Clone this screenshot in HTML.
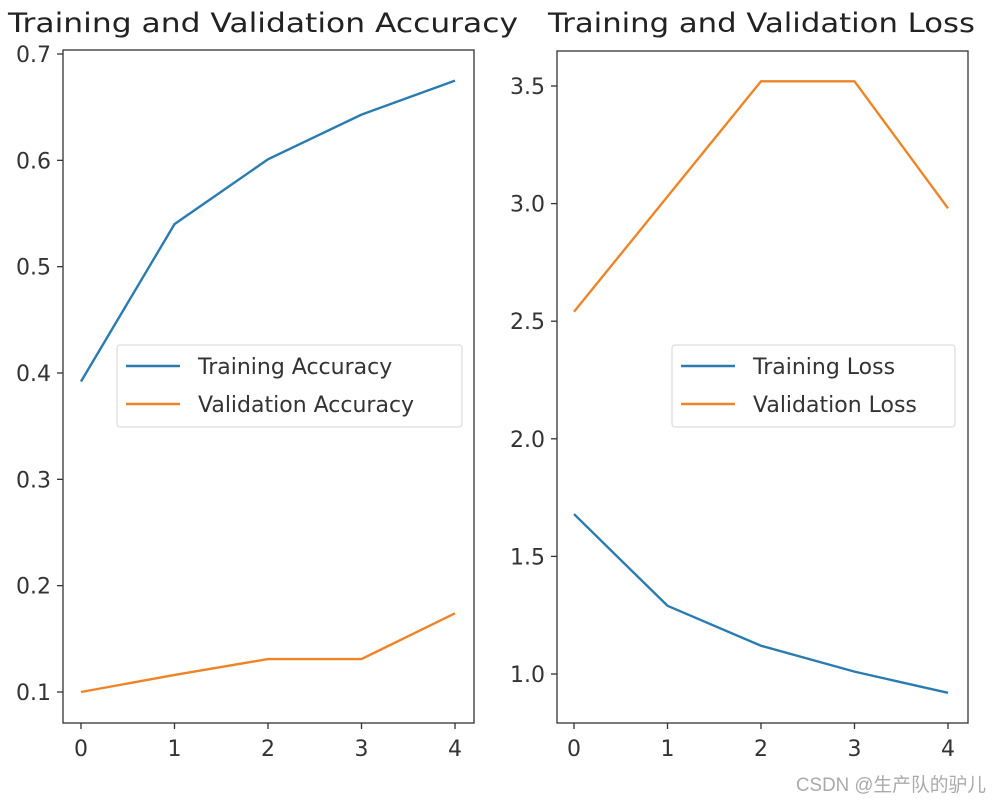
<!DOCTYPE html>
<html><head><meta charset="utf-8"><style>
body{margin:0;background:#fff;}
svg{display:block;font-family:"DejaVu Sans","Liberation Sans",sans-serif;}
</style></head><body>
<svg id="c" width="1002" height="802"></svg>
<script>
const epochs=[0,1,2,3,4];
const accTicks=[0.1,0.2,0.3,0.4,0.5,0.6,0.7];
const lossTicks=[1.0,1.5,2.0,2.5,3.0,3.5];
const trainAcc=[0.392,0.540,0.601,0.643,0.675];
const valAcc=[0.100,0.116,0.131,0.131,0.174];
const trainLoss=[1.68,1.29,1.12,1.01,0.92];
const valLoss=[2.54,3.03,3.52,3.52,2.98];
const NS='http://www.w3.org/2000/svg';
const svg=document.getElementById('c');
function mk(t,a,p){const e=document.createElementNS(NS,t);for(const k in a)e.setAttribute(k,a[k]);(p||svg).appendChild(e);return e;}
function panel(o){
  const g=mk('g',{});
  
  
  const xs=v=>o.x0+ (v-0)*(o.x4-o.x0)/4;
  const ys=v=>o.ya+(v-o.va)*(o.yb-o.ya)/(o.vb-o.va);
  const t=mk('text',{x:o.tx,y:32,'font-size':27,fill:'#222',textLength:o.tw,lengthAdjust:'spacingAndGlyphs'},g);t.textContent=o.title;
  
  
  o.yt.forEach(v=>{
    const y=ys(v);
    mk('line',{x1:o.L-6,x2:o.L,y1:y,y2:y,stroke:'#333','stroke-width':1.3},g);
    const l=mk('text',{x:o.L-12,y:y+8,'text-anchor':'end','font-size':22,fill:'#333'},g);
    l.textContent=v.toFixed(1);
    
    
  });
  epochs.forEach(v=>{
    const x=xs(v);
    mk('line',{x1:x,x2:x,y1:o.B,y2:o.B+6,stroke:'#333','stroke-width':1.3},g);
    const l=mk('text',{x:x,y:o.B+33,'text-anchor':'middle','font-size':22,fill:'#333'},g);
    l.textContent=v;
    
    
  });
  [[o.s1,'#2a7bb0',o.n1],[o.s2,'#ef8427',o.n2]].forEach(([s,c,n])=>{
    const p=mk('polyline',{points:s.map((v,i)=>xs(epochs[i])+','+ys(v)).join(' '),fill:'none',stroke:c,'stroke-width':2.4},g);
    
    
  });
  mk('rect',{x:o.L,y:o.T,width:o.R-o.L,height:o.B-o.T,fill:'none',stroke:'#333','stroke-width':1.3},g);
  const lg=mk('g',{},g);
  
  
  mk('rect',{x:o.lx,y:345,width:o.lw,height:82,rx:3,fill:'#fff',stroke:'#ddd','stroke-width':1.2},lg);
  [[o.n1,'#2a7bb0',366],[o.n2,'#ef8427',404]].forEach(([n,c,y])=>{
    mk('line',{x1:o.lx+9,x2:o.lx+63,y1:y,y2:y,stroke:c,'stroke-width':2.4},lg);
    const l=mk('text',{x:o.lx+81,y:y+8,'font-size':22,fill:'#333'},lg);
    l.textContent=n;
    
    
  });
}
panel({name:'accuracy-panel',title:'Training and Validation Accuracy',tx:8,tw:510,L:63,R:474,T:50,B:723,x0:81,x4:455,ya:692,va:0.1,yb:54,vb:0.7,yt:accTicks,s1:trainAcc,s2:valAcc,n1:'Training Accuracy',n2:'Validation Accuracy',lx:117,lw:345});
panel({name:'loss-panel',title:'Training and Validation Loss',tx:548,tw:427,L:557,R:968,T:51,B:723,x0:574,x4:948,ya:674,va:1.0,yb:86,vb:3.5,yt:lossTicks,s1:trainLoss,s2:valLoss,n1:'Training Loss',n2:'Validation Loss',lx:672,lw:283});
const w=mk('text',{x:796,y:791,'font-size':19,fill:'#aaa',textLength:190,lengthAdjust:'spacingAndGlyphs','font-family':'"Liberation Sans","Noto Sans CJK SC",sans-serif'});
w.textContent='CSDN @生产队的驴儿';


</script>
</body></html>
